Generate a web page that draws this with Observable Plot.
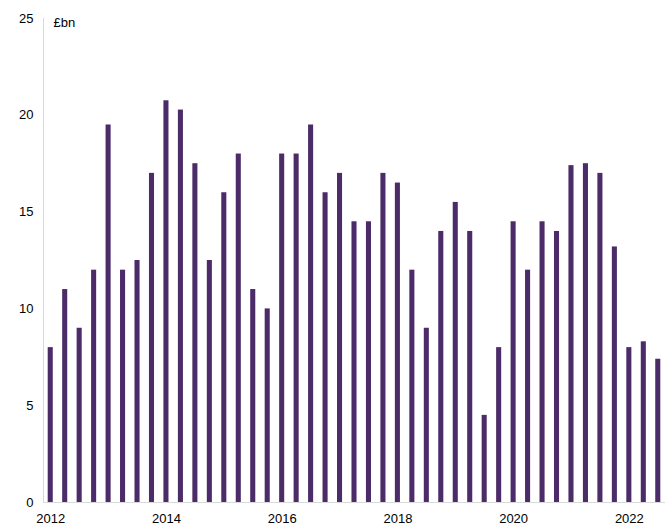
<!DOCTYPE html>
<html>
<head>
<meta charset="utf-8">
<script src="https://cdn.jsdelivr.net/npm/d3@7"></script>
<script src="https://cdn.jsdelivr.net/npm/@observablehq/plot@0.6"></script>
<style>
  html, body { margin: 0; padding: 0; background: #fff; }
  svg { display: block; }
</style>
</head>
<body>
<div id="chart"></div>
<script>
const years = [2012,2013,2014,2015,2016,2017,2018,2019,2020,2021,2022];
const quartersPerYear = ["Q1","Q2","Q3","Q4"];
const values = [
  8, 11, 9, 12,
  19.5, 12, 12.5, 17,
  20.75, 20.27, 17.5, 12.5,
  16, 18, 11, 10,
  18, 18, 19.5, 16,
  17, 14.5, 14.5, 17,
  16.5, 12, 9, 14,
  15.5, 14, 4.5, 8,
  14.5, 12, 14.5, 14,
  17.4, 17.5, 17, 13.2,
  8, 8.3, 7.4
];
const yTicks = [0, 5, 10, 15, 20, 25];
const xTickLabels = ["2012","2014","2016","2018","2020","2022"];

const periods = [];
years.forEach(y => quartersPerYear.forEach(q => periods.push(`${y} ${q}`)));
const data = values.map((v, i) => ({period: periods[i], value: v}));
const domain = data.map(d => d.period);

const chart = Plot.plot({
  width: 668,
  height: 528,
  marginLeft: 43,
  marginRight: 3,
  marginTop: 18,
  marginBottom: 26,
  style: {fontFamily: "'Liberation Sans', Arial, sans-serif", fontSize: "13px", color: "#000", background: "#fff"},
  x: {type: "band", domain, paddingInner: 0.65, paddingOuter: 0.325, align: 0.5, round: false},
  y: {domain: [0, 25]},
  marks: [
    Plot.frame({anchor: "left", stroke: "#d9d9d9"}),
    Plot.ruleY([0], {stroke: "#d9d9d9"}),
    Plot.barY(data, {x: "period", y: "value", fill: "#4b2c69"}),
    Plot.axisY({ticks: yTicks, tickSize: 0, tickPadding: 10, fontSize: 13, label: null}),
    Plot.axisX({
      ticks: domain.filter(p => xTickLabels.includes(p.slice(0,4)) && p.endsWith("Q1")),
      tickFormat: p => p.slice(0, 4),
      tickSize: 0, tickPadding: 11, fontSize: 13, label: null
    }),
    Plot.text(["£bn"], {frameAnchor: "top-left", dx: 10, dy: -1, lineAnchor: "top", textAnchor: "start", fontSize: 13, fill: "#000"})
  ]
});
document.getElementById("chart").appendChild(chart);
</script>
</body>
</html>
